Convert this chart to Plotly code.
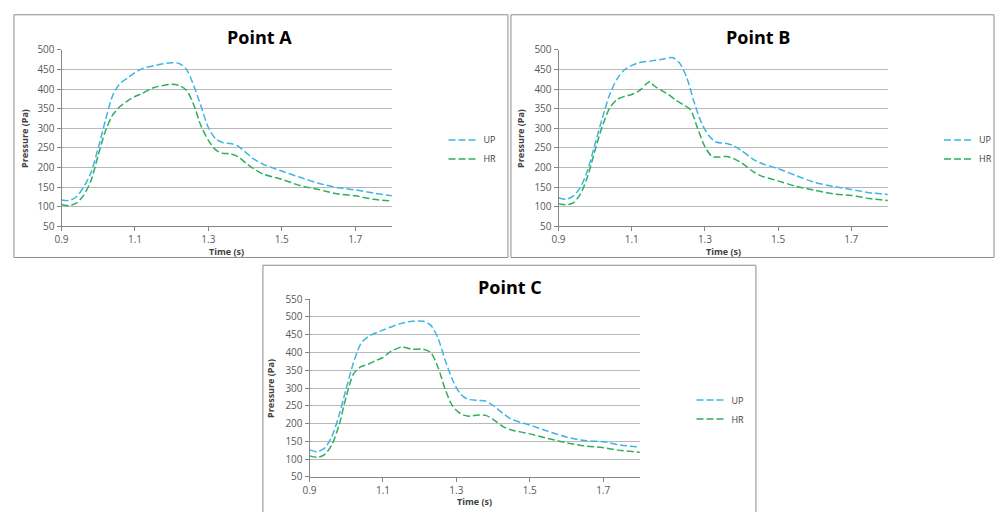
import plotly.graph_objects as go

# ---------------- data ----------------
time_a_up = [0.90, 0.92, 0.94, 0.96, 0.98, 1.00, 1.02, 1.04, 1.06, 1.08, 1.10, 1.12, 1.15, 1.20, 1.22, 1.24, 1.26, 1.28, 1.30, 1.32, 1.34, 1.36, 1.38, 1.40, 1.42, 1.45, 1.50, 1.55, 1.60, 1.65, 1.70, 1.75, 1.80]
a_up = [117, 116, 125, 150, 187, 250, 322, 385, 415, 428, 442, 452, 459, 467, 465, 450, 409, 356, 302, 273, 263, 261, 255, 240, 224, 208, 191, 175, 160, 149, 143, 135, 128]
time_a_hr = [0.90, 0.92, 0.94, 0.96, 0.98, 1.00, 1.02, 1.04, 1.06, 1.08, 1.10, 1.12, 1.15, 1.20, 1.22, 1.24, 1.26, 1.28, 1.30, 1.32, 1.34, 1.36, 1.38, 1.40, 1.42, 1.45, 1.50, 1.55, 1.60, 1.65, 1.70, 1.75, 1.80]
a_hr = [106, 103, 109, 129, 166, 232, 294, 335, 356, 370, 381, 389, 403, 412, 409, 397, 360, 306, 269, 245, 236, 235, 228, 213, 199, 183, 170, 154, 144, 133, 128, 119, 115]

time_b_up = [0.90, 0.92, 0.94, 0.96, 0.98, 1.00, 1.02, 1.04, 1.06, 1.08, 1.10, 1.12, 1.15, 1.18, 1.21, 1.23, 1.25, 1.27, 1.29, 1.31, 1.33, 1.36, 1.38, 1.40, 1.43, 1.45, 1.50, 1.55, 1.60, 1.65, 1.70, 1.75, 1.80]
b_up = [123, 119, 127, 150, 195, 261, 327, 386, 426, 449, 460, 467, 471, 475, 480, 467, 430, 368, 315, 282, 265, 261, 255, 243, 222, 212, 197, 179, 162, 152, 144, 136, 131]
time_b_hr = [0.90, 0.92, 0.94, 0.96, 0.98, 1.00, 1.02, 1.04, 1.06, 1.08, 1.10, 1.12, 1.14, 1.15, 1.16, 1.18, 1.20, 1.22, 1.24, 1.26, 1.28, 1.30, 1.32, 1.34, 1.36, 1.38, 1.40, 1.43, 1.45, 1.50, 1.55, 1.60, 1.65, 1.70, 1.75, 1.80]
b_hr = [108, 105, 110, 133, 179, 245, 306, 352, 373, 381, 386, 395, 413, 419, 409, 397, 386, 372, 360, 348, 300, 253, 228, 227, 228, 222, 212, 191, 180, 166, 152, 142, 133, 129, 121, 116]

time_c_up = [0.90, 0.92, 0.94, 0.96, 0.98, 1.00, 1.02, 1.04, 1.06, 1.10, 1.15, 1.18, 1.21, 1.23, 1.25, 1.27, 1.29, 1.31, 1.33, 1.36, 1.38, 1.40, 1.43, 1.45, 1.50, 1.55, 1.60, 1.65, 1.70, 1.75, 1.80]
c_up = [126, 121, 130, 162, 222, 299, 372, 425, 445, 463, 482, 488, 488, 477, 440, 377, 322, 285, 269, 265, 263, 251, 226, 212, 196, 178, 162, 152, 149, 139, 134]
time_c_hr = [0.90, 0.92, 0.94, 0.96, 0.98, 1.00, 1.02, 1.04, 1.06, 1.08, 1.10, 1.12, 1.15, 1.18, 1.21, 1.23, 1.25, 1.27, 1.29, 1.31, 1.33, 1.36, 1.38, 1.40, 1.43, 1.45, 1.50, 1.55, 1.60, 1.65, 1.70, 1.75, 1.80]
c_hr = [109, 105, 112, 139, 194, 276, 340, 360, 367, 377, 386, 402, 415, 409, 409, 400, 358, 295, 249, 229, 221, 224, 223, 212, 190, 182, 171, 158, 146, 137, 132, 124, 119]

titles = ["Point A", "Point B", "Point C"]
series_names = ["UP", "HR"]
x_tickvals = [0.9, 1.1, 1.3, 1.5, 1.7]
x_ticktext = ["0.9", "1.1", "1.3", "1.5", "1.7"]
y_ranges = [[50, 500], [50, 500], [50, 550]]

# ---------------- styling ----------------
W, H = 997, 512
UP_COLOR = "#3DB5E6"
HR_COLOR = "#2EAE5E"
FONT = "Open Sans"

def px(x):
    return x / W

def py(y):
    return 1 - y / H

# panel geometry in pixels: plot left, right, top, bottom; border box; title; legend
panels = [
    dict(pl=55, pr=388, pt=43, pb=225, box=(7, 7, 505, 257), title=(255, 30), ylab_x=17, xlab_y=251, leg=(440, 121)),
    dict(pl=556, pr=888, pt=43, pb=225, box=(508, 7, 995, 257), title=(757, 30), ylab_x=517, xlab_y=251, leg=(940, 121)),
    dict(pl=305, pr=638, pt=300, pb=483, box=(258, 265, 755, 520), title=(507, 287), ylab_x=265, xlab_y=508, leg=(690, 389)),
]

data = [
    ((time_a_up, a_up), (time_a_hr, a_hr)),
    ((time_b_up, b_up), (time_b_hr, b_hr)),
    ((time_c_up, c_up), (time_c_hr, c_hr)),
]

fig = go.Figure()
layout = dict(
    width=W, height=H, margin=dict(l=0, r=0, t=0, b=0),
    paper_bgcolor="white", plot_bgcolor="white",
    font=dict(family=FONT, color="#595959"),
    shapes=[], annotations=[],
)

for i, (p, series) in enumerate(zip(panels, data)):
    sfx = "" if i == 0 else str(i + 1)
    xa = "x" + sfx
    ya = "y" + sfx
    leg = "legend" + sfx
    for name, (tx, ty), col in zip(series_names, series, [UP_COLOR, HR_COLOR]):
        fig.add_trace(go.Scatter(
            x=tx, y=ty, name=name, mode="lines", xaxis=xa, yaxis=ya, legend=leg,
            line=dict(color=col, width=1.5, dash="7px,3px", shape="spline", smoothing=0.8),
            showlegend=True,
        ))
    layout["xaxis" + sfx] = dict(
        domain=[px(p["pl"]), px(p["pr"])], anchor=ya, range=[0.9, 1.8],
        tickvals=x_tickvals, ticktext=x_ticktext, ticks="outside", ticklen=4,
        tickcolor="#868686", showline=True, linecolor="#868686", linewidth=1,
        showgrid=False, zeroline=False, tickfont=dict(size=10, color="#595959", family=FONT),
    )
    layout["yaxis" + sfx] = dict(
        domain=[py(p["pb"]), py(p["pt"])], anchor=xa, range=y_ranges[i], dtick=50,
        ticks="outside", ticklen=4, tickcolor="#868686", showline=True, linecolor="#868686",
        linewidth=1, showgrid=True, gridcolor="#B8B8B8", gridwidth=1, zeroline=False,
        tickfont=dict(size=10, color="#595959", family=FONT),
    )
    layout[leg] = dict(
        x=px(p["leg"][0]), y=py(p["leg"][1]), xanchor="left", yanchor="top",
        font=dict(size=9, color="#404040", family=FONT), bgcolor="rgba(0,0,0,0)",
        itemwidth=30, tracegroupgap=0,
    )
    bx0, by0, bx1, by1 = p["box"]
    layout["shapes"].append(dict(
        type="rect", xref="paper", yref="paper", x0=px(bx0), x1=px(bx1), y0=py(by1), y1=py(by0),
        line=dict(color="#8C8C8C", width=1), fillcolor="rgba(0,0,0,0)", layer="below",
    ))
    layout["annotations"].append(dict(
        text="<b>" + titles[i] + "</b>", x=px(p["title"][0]), y=py(p["title"][1]),
        xref="paper", yref="paper", showarrow=False, xanchor="center", yanchor="middle",
        font=dict(size=18, color="#000000", family=FONT),
    ))
    layout["annotations"].append(dict(
        text="<b>Pressure (Pa)</b>", x=px(p["ylab_x"]), y=py((p["pt"] + p["pb"]) / 2),
        xref="paper", yref="paper", showarrow=False, textangle=-90,
        xanchor="center", yanchor="middle", font=dict(size=9, color="#404040", family=FONT),
    ))
    layout["annotations"].append(dict(
        text="<b>Time (s)</b>", x=px((p["pl"] + p["pr"]) / 2), y=py(p["xlab_y"]),
        xref="paper", yref="paper", showarrow=False, xanchor="center", yanchor="middle",
        font=dict(size=9, color="#404040", family=FONT),
    ))

fig.update_layout(**layout)
fig.write_html("out.html")
